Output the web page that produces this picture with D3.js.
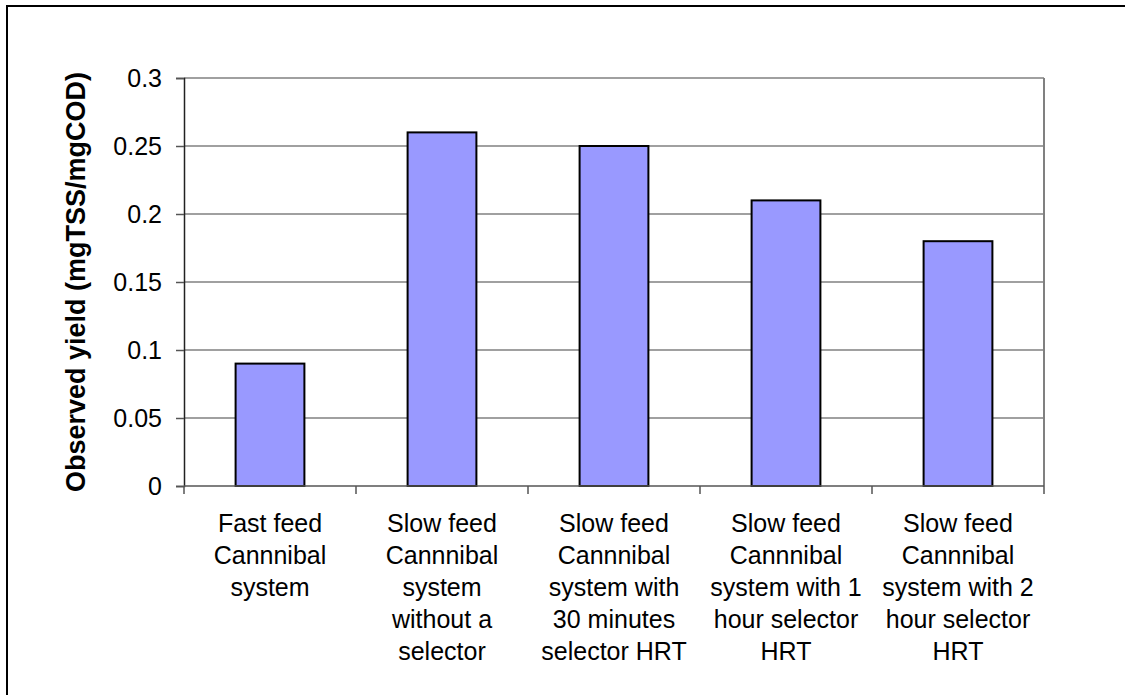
<!DOCTYPE html>
<html>
<head>
<meta charset="utf-8">
<script src="https://cdn.jsdelivr.net/npm/d3@7"></script>
<style>
  body { margin: 0; background: #fff; }
  svg { display: block; font-family: "Liberation Sans", Arial, sans-serif; }
</style>
</head>
<body>
<svg id="chart" width="1125" height="695"></svg>
<script>
// chart data
const categories = [
  ['Fast feed', 'Cannnibal', 'system'],
  ['Slow feed', 'Cannnibal', 'system', 'without a', 'selector'],
  ['Slow feed', 'Cannnibal', 'system with', '30 minutes', 'selector HRT'],
  ['Slow feed', 'Cannnibal', 'system with 1', 'hour selector', 'HRT'],
  ['Slow feed', 'Cannnibal', 'system with 2', 'hour selector', 'HRT']
]
const yieldValues = [0.09, 0.26, 0.25, 0.21, 0.18]
const yTicks = [0, 0.05, 0.1, 0.15, 0.2, 0.25, 0.3]
const yTitle = 'Observed yield (mgTSS/mgCOD)'

document.addEventListener('DOMContentLoaded', start)

function start () {
  const svg = d3.select('#chart')
  const plot = { left: 184, right: 1044, top: 78, bottom: 486 }

  // outer frame (runs off the right and bottom of the picture)
  svg.append('rect')
    .attr('x', 7).attr('y', 6)
    .attr('width', 1140).attr('height', 720)
    .attr('fill', '#fff')
    .attr('stroke', '#000')
    .attr('stroke-width', 2)

  const x = d3.scaleBand()
    .domain(d3.range(categories.length))
    .range([plot.left, plot.right])
    .paddingInner(0.6)
    .paddingOuter(0.3)

  const y = d3.scaleLinear()
    .domain([0, 0.3])
    .range([plot.bottom, plot.top])

  // gridlines
  svg.append('g')
    .selectAll('line')
    .data(yTicks.filter(d => d > 0))
    .enter().append('line')
    .attr('x1', plot.left).attr('x2', plot.right)
    .attr('y1', d => y(d)).attr('y2', d => y(d))
    .attr('stroke', '#808080')
    .attr('stroke-width', 1.5)

  // right border of plot area
  svg.append('line')
    .attr('x1', plot.right).attr('x2', plot.right)
    .attr('y1', plot.top).attr('y2', plot.bottom)
    .attr('stroke', '#808080')
    .attr('stroke-width', 2)

  // bars
  svg.append('g')
    .selectAll('rect')
    .data(yieldValues)
    .enter().append('rect')
    .attr('x', (d, i) => x(i))
    .attr('y', d => y(d))
    .attr('width', x.bandwidth())
    .attr('height', d => y(0) - y(d))
    .attr('fill', '#9999ff')
    .attr('stroke', '#000')
    .attr('stroke-width', 2)

  // y axis
  const yAxis = svg.append('g')
    .attr('transform', `translate(${plot.left},0)`)
    .call(d3.axisLeft(y).tickValues(yTicks).tickFormat(d => String(d)).tickSize(8).tickPadding(14))
  yAxis.select('.domain').attr('stroke', '#222').attr('stroke-width', 1.5)
  yAxis.selectAll('.tick line').attr('stroke', '#555').attr('stroke-width', 1.5)
  yAxis.selectAll('.tick text')
    .attr('fill', '#000')
    .style('font-size', '25px')
    .style('font-family', '"Liberation Sans", Arial, sans-serif')

  // x axis line and ticks between categories
  const xAxis = svg.append('g')
  xAxis.append('line')
    .attr('x1', plot.left).attr('x2', plot.right)
    .attr('y1', plot.bottom).attr('y2', plot.bottom)
    .attr('stroke', '#555')
    .attr('stroke-width', 1.5)
  xAxis.selectAll('.xtick')
    .data(d3.range(categories.length + 1))
    .enter().append('line')
    .attr('class', 'xtick')
    .attr('x1', i => plot.left + i * x.step())
    .attr('x2', i => plot.left + i * x.step())
    .attr('y1', plot.bottom).attr('y2', plot.bottom + 8)
    .attr('stroke', '#555')
    .attr('stroke-width', 1.5)

  // category labels
  svg.append('g')
    .selectAll('text')
    .data(categories)
    .enter().append('text')
    .attr('text-anchor', 'middle')
    .style('font-size', '25px')
    .attr('y', 532)
    .each(function (lines, i) {
      const cx = x(i) + x.bandwidth() / 2
      d3.select(this).selectAll('tspan')
        .data(lines)
        .enter().append('tspan')
        .attr('x', cx)
        .attr('dy', (d, j) => j === 0 ? 0 : 32)
        .text(d => d)
    })

  // y title
  svg.append('text')
    .attr('transform', `translate(85,${(plot.top + plot.bottom) / 2}) rotate(-90)`)
    .attr('text-anchor', 'middle')
    .style('font-size', '27px')
    .style('font-weight', 'bold')
    .text(yTitle)
}
</script>
</body>
</html>
